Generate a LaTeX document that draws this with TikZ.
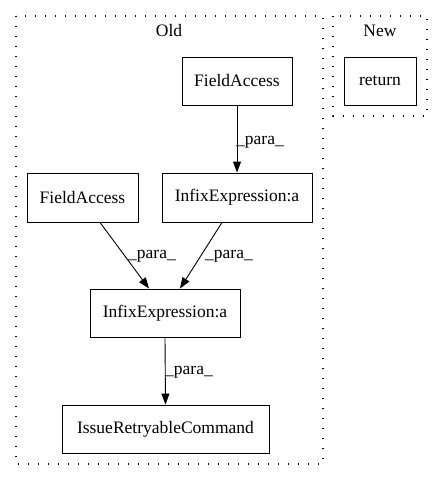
\documentclass[tikz,border=0pt]{standalone}
\usepackage{fontspec}
\setmainfont{Liberation Serif}
\usetikzlibrary{arrows.meta}
\begin{document}
\begin{tikzpicture}[x=1pt,y=-1pt,
  box/.style={draw,line width=0.9pt,inner sep=0pt,font=\fontsize{17.5}{20}\selectfont},
  cluster/.style={draw,line width=1.1pt,dash pattern=on 1.4pt off 8.6pt},
  edge/.style={line width=0.9pt,-{Triangle[length=11pt,width=8pt]}},
  elab/.style={font=\fontsize{17.5}{20}\selectfont,inner sep=0pt,anchor=west}]
\useasboundingbox (0,0) rectangle (443,480);
\draw[cluster] (16,16) rectangle (323,464);
\draw[cluster] (333,16) rectangle (427,116);
\node[font=\fontsize{17.5}{20}\selectfont] (old) at (169,31) {Old};
\node[font=\fontsize{17.5}{20}\selectfont] (new) at (380,31) {New};
\node[box,minimum width=110pt,minimum height=48pt] (fa1) at (237,81) {FieldAccess};
\node[box,minimum width=72pt,minimum height=48pt] (ret) at (380,81) {return};
\node[box,minimum width=111pt,minimum height=49pt] (fa2) at (82.5,197.5) {FieldAccess};
\node[box,minimum width=150pt,minimum height=49pt] (ie1) at (237,197.5) {InfixExpression:a};
\node[box,minimum width=150pt,minimum height=48pt] (ie2) at (165,313) {InfixExpression:a};
\node[box,minimum width=207pt,minimum height=48pt] (irc) at (165.5,429) {IssueRetryableCommand};
\draw[edge] (fa1.south) -- (ie1.north);
\node[elab] (l1) at (236,142) {\_para\_};
\draw[edge] (fa2.south -| 100,0) -- (ie2.north -| 149,0);
\node[elab] (l2) at (128,256) {\_para\_};
\draw[edge] (ie1.south -| 222,0) -- (ie2.north -| 180,0);
\node[elab] (l3) at (205,256) {\_para\_};
\draw[edge] (ie2.south) -- (irc.north);
\node[elab] (l4) at (165,372) {\_para\_};
\end{tikzpicture}
\end{document}
